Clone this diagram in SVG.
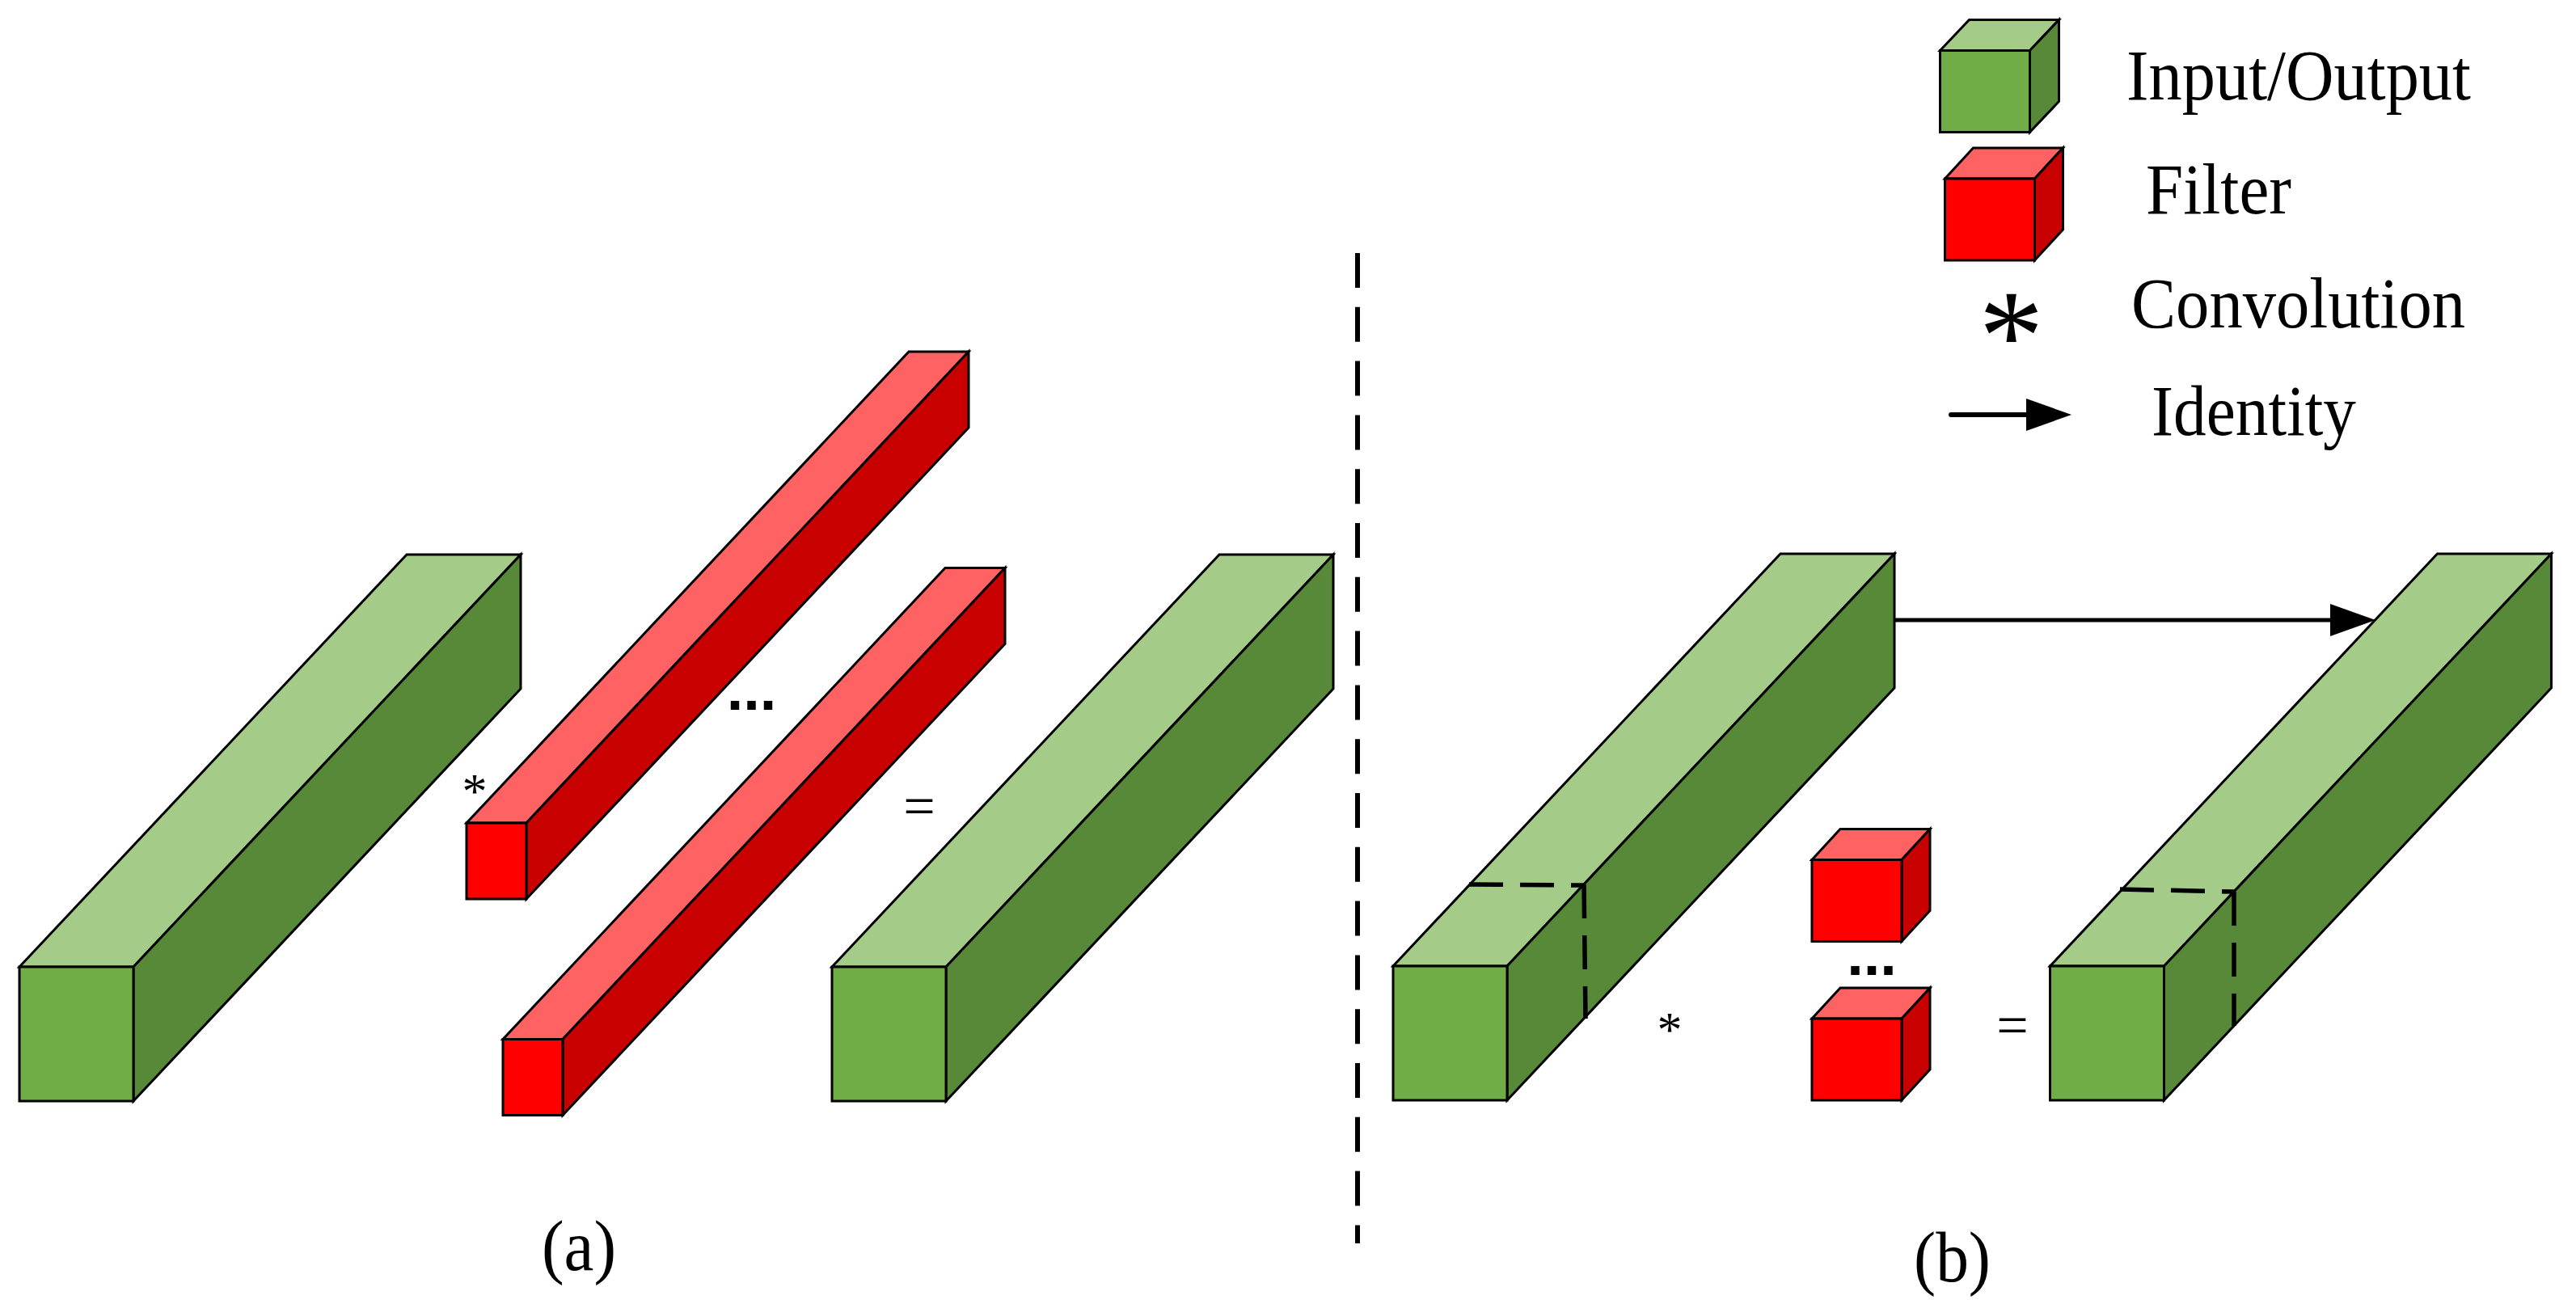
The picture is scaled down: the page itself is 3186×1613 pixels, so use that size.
<svg xmlns="http://www.w3.org/2000/svg" xmlns:xlink="http://www.w3.org/1999/xlink" width="3186" height="1613" viewBox="0 0 3186 1613">
<style>
.e{stroke:#000;stroke-width:3;stroke-linejoin:miter}
.gf{fill:#70AD47}.gt{fill:#A4CC88}.gs{fill:#578939}
.rf{fill:#FF0000}.rt{fill:#FF6262}.rs{fill:#C80000}
.slice{stroke:#000;stroke-width:5.5;stroke-dasharray:42 21;fill:none}
.div{stroke:#000;stroke-width:6;stroke-dasharray:43 23.8;fill:none}
.arr{stroke:#000;stroke-width:5;fill:none}
.t{font-family:"Liberation Serif","Times New Roman",serif;font-size:88px;fill:#000}
.op{font-family:"Liberation Serif","Times New Roman",serif;fill:#000;text-anchor:middle}
.dots{font-family:"Liberation Sans",Arial,sans-serif;font-weight:bold;font-size:74px;text-anchor:middle;fill:#000}
</style>
<defs>
<marker id="ah" markerUnits="userSpaceOnUse" markerWidth="56" markerHeight="40" viewBox="0 0 56 40" refX="2" refY="20" orient="auto"><path d="M0,0 L56,20 L0,40 z" fill="#000"/></marker>
<g id="gbar">
<polygon class="e gt" points="0,0 479,-510 620,-510 141,0"/>
<polygon class="e gs" points="141,0 620,-510 620,-344 141,166"/>
<rect class="e gf" x="0" y="0" width="141" height="166"/>
</g>
<g id="rbar">
<polygon class="e rt" points="0,0 547,-583 621,-583 74,0"/>
<polygon class="e rs" points="74,0 621,-583 621,-489 74,94"/>
<rect class="e rf" x="0" y="0" width="74" height="94"/>
</g>
<g id="rcube">
<polygon class="e rt" points="0,0 35,-38 146,-38 111,0"/>
<polygon class="e rs" points="111,0 146,-38 146,63 111,101"/>
<rect class="e rf" x="0" y="0" width="111" height="101"/>
</g>
<g id="gcube">
<polygon class="e gt" points="0,0 36,-38 147,-38 111,0"/>
<polygon class="e gs" points="111,0 147,-38 147,63 111,101"/>
<rect class="e gf" x="0" y="0" width="111" height="101"/>
</g>
</defs>
<rect x="0" y="0" width="3186" height="1613" fill="#fff"/>

<!-- panel (a) -->
<g id="input-a"><use xlink:href="#gbar" x="24" y="1196"/></g>
<g id="filter-a1"><use xlink:href="#rbar" x="577" y="1018"/></g>
<g id="filter-a2"><use xlink:href="#rbar" x="622" y="1285.5"/></g>
<g id="output-a"><use xlink:href="#gbar" x="1029" y="1196"/></g>
<g id="ops-a">
<text class="op" x="587" y="999" font-size="62">*</text>
<text class="dots" x="929.5" y="877.5">...</text>
<text class="op" x="1137" y="1021" font-size="70">=</text>
</g>
<g id="label-a"><text class="t" x="670" y="1571" textLength="92" lengthAdjust="spacingAndGlyphs">(a)</text></g>

<!-- divider -->
<g id="divider"><line class="div" x1="1679" y1="313" x2="1679" y2="1538"/></g>

<!-- panel (b) -->
<g id="input-b">
<use xlink:href="#gbar" x="1723" y="1195"/>
<line class="slice" x1="1817" y1="1094" x2="1959" y2="1095"/>
<line class="slice" x1="1959" y1="1094" x2="1961" y2="1260"/>
</g>
<g id="filter-b1"><use xlink:href="#rcube" x="2241" y="1063.5"/></g>
<g id="filter-b2"><use xlink:href="#rcube" x="2241" y="1260"/></g>
<g id="output-b">
<use xlink:href="#gbar" x="2535.5" y="1195"/>
<line class="slice" x1="2622" y1="1100" x2="2763" y2="1103"/>
<line class="slice" x1="2763" y1="1103" x2="2763" y2="1269"/>
</g>
<g id="ops-b">
<text class="op" x="2065" y="1294" font-size="62">*</text>
<text class="dots" x="2315" y="1205.5">...</text>
<text class="op" x="2489" y="1292" font-size="70">=</text>
</g>
<g id="label-b"><text class="t" x="2367" y="1585" textLength="95" lengthAdjust="spacingAndGlyphs">(b)</text></g>

<g id="connectors">
<line class="arr" x1="2343" y1="767" x2="2884" y2="767" marker-end="url(#ah)"/>
</g>

<!-- legend -->
<g id="legend">
<g id="legend-io"><use xlink:href="#gcube" x="2399.5" y="62.5"/>
<text class="t" x="2630" y="122.5" textLength="426" lengthAdjust="spacingAndGlyphs">Input/Output</text></g>
<g id="legend-filter"><use xlink:href="#rcube" x="2405.5" y="221"/>
<text class="t" x="2654" y="264" textLength="180" lengthAdjust="spacingAndGlyphs">Filter</text></g>
<g id="legend-conv"><text class="op" x="2487.5" y="469" font-size="161">*</text>
<text class="t" x="2636" y="404.6" textLength="413" lengthAdjust="spacingAndGlyphs">Convolution</text></g>
<g id="legend-id"><line x1="2413" y1="513" x2="2508" y2="513" stroke="#000" stroke-width="6" stroke-linecap="round" marker-end="url(#ah)"/>
<text class="t" x="2661" y="537.5" textLength="253" lengthAdjust="spacingAndGlyphs">Identity</text></g>
</g>
</svg>
